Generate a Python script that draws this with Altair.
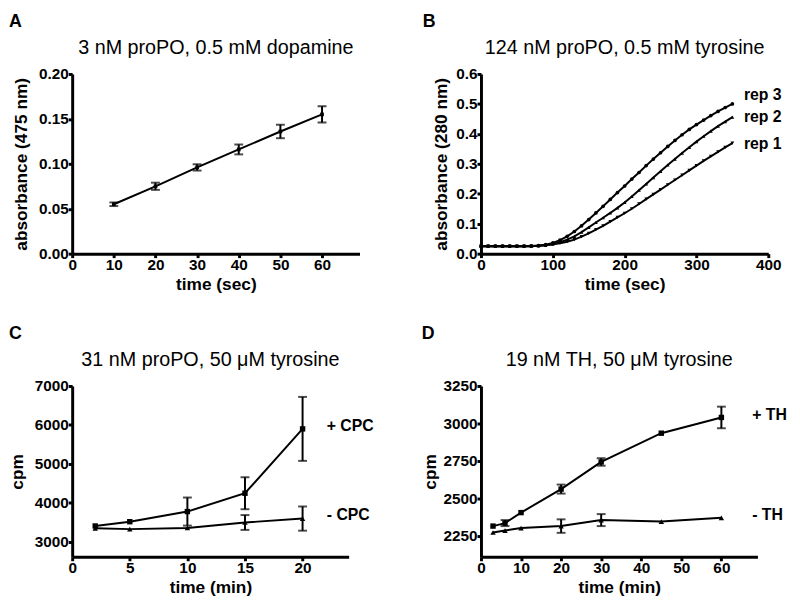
import altair as alt
import pandas as pd

FONT = "Liberation Sans"

# ---------------- Panel A ----------------
a_time = [10, 20, 30, 40, 50, 60]
a_mean = [0.055, 0.075, 0.096, 0.116, 0.136, 0.155]
a_err = [0.002, 0.004, 0.0035, 0.0055, 0.0075, 0.009]

# ---------------- Panel B ----------------
b_time = [0, 10, 20, 30, 40, 50, 60, 70, 80, 90, 100, 110, 120, 130, 140, 150, 160, 170,
          180, 190, 200, 210, 220, 230, 240, 250, 260, 270, 280, 290, 300, 310, 320, 330, 340, 350]
b_rep3 = [0.025, 0.025, 0.025, 0.025, 0.025, 0.025, 0.025, 0.026, 0.027, 0.030, 0.036, 0.045,
          0.058, 0.074, 0.093, 0.114, 0.136, 0.158, 0.181, 0.204, 0.226, 0.249, 0.271, 0.294,
          0.316, 0.337, 0.358, 0.378, 0.397, 0.415, 0.431, 0.446, 0.461, 0.475, 0.488, 0.500]
b_rep2 = [0.025, 0.025, 0.025, 0.025, 0.025, 0.025, 0.025, 0.025, 0.026, 0.028, 0.032, 0.038,
          0.047, 0.058, 0.072, 0.088, 0.104, 0.120, 0.136, 0.153, 0.171, 0.191, 0.212, 0.233,
          0.254, 0.275, 0.296, 0.316, 0.336, 0.355, 0.374, 0.392, 0.409, 0.426, 0.441, 0.456]
b_rep1 = [0.025, 0.025, 0.025, 0.025, 0.025, 0.025, 0.025, 0.025, 0.026, 0.028, 0.031, 0.035,
          0.040, 0.047, 0.057, 0.068, 0.080, 0.093, 0.107, 0.121, 0.135, 0.150, 0.166, 0.182,
          0.198, 0.214, 0.230, 0.246, 0.262, 0.278, 0.294, 0.310, 0.325, 0.340, 0.355, 0.369]
b_labels = ["rep 3", "rep 2", "rep 1"]
b_label_x = [366, 366, 366]
b_label_y = [0.530, 0.457, 0.366]

# ---------------- Panel C ----------------
c_time = [2, 5, 10, 15, 20]
c_plus = [3410, 3520, 3780, 4250, 5900]
c_plus_err = [0, 0, 360, 410, 820]
c_minus = [3350, 3330, 3360, 3500, 3600]
c_minus_err = [0, 0, 0, 190, 310]
c_labels = ["+ CPC", "- CPC"]
c_label_x = [22.1, 22.1]
c_label_y = [5985, 3690]

# ---------------- Panel D ----------------
d_time = [3, 6, 10, 20, 30, 45, 60]
d_plus = [2315, 2335, 2405, 2562, 2743, 2935, 3040]
d_plus_err = [0, 20, 0, 30, 25, 0, 72]
d_minus = [2272, 2285, 2302, 2315, 2355, 2345, 2370]
d_minus_err = [0, 0, 0, 45, 40, 0, 0]
d_labels = ["+ TH", "- TH"]
d_label_x = [67.7, 67.7]
d_label_y = [3054, 2388]


def xq(field, domain, values, title):
    return alt.X(f"{field}:Q", scale=alt.Scale(domain=domain, nice=False, zero=False),
                 axis=alt.Axis(values=values, title=title))


def yq(field, domain, values, title, fmt, tpad):
    return alt.Y(f"{field}:Q", scale=alt.Scale(domain=domain, nice=False, zero=False),
                 axis=alt.Axis(values=values, title=title, format=fmt, titlePadding=tpad))


def series_layers(xs, ys, errs, shape, size, X, Y, cap=9):
    df = pd.DataFrame({"x": xs, "y": ys})
    layers = [
        alt.Chart(df).mark_line(color="black", strokeWidth=2).encode(x=X("x"), y=Y("y")),
        alt.Chart(df).mark_point(filled=True, color="black", shape=shape, size=size, opacity=1)
        .encode(x=X("x"), y=Y("y")),
    ]
    if errs is not None:
        rows = [(x, y - e, y + e) for x, y, e in zip(xs, ys, errs) if e > 0]
        edf = pd.DataFrame(rows, columns=["x", "lo", "hi"])
        layers += [
            alt.Chart(edf).mark_rule(color="black", strokeWidth=2)
            .encode(x=X("x"), y=Y("lo"), y2="hi"),
            alt.Chart(edf).mark_tick(color="black", orient="horizontal", size=cap, thickness=2)
            .encode(x=X("x"), y=Y("lo")),
            alt.Chart(edf).mark_tick(color="black", orient="horizontal", size=cap, thickness=2)
            .encode(x=X("x"), y=Y("hi")),
        ]
    return layers


def letter(ch, dx, dy=-48):
    return alt.Chart(pd.DataFrame({"t": [ch]})).mark_text(
        align="left", baseline="alphabetic", fontSize=18, fontWeight="bold", font=FONT,
        color="black").encode(text="t:N", x=alt.value(dx), y=alt.value(dy))


def ptitle(txt, w, dy=-20):
    return alt.Chart(pd.DataFrame({"t": [txt]})).mark_text(
        align="center", baseline="alphabetic", fontSize=20, fontWeight="normal", font=FONT,
        color="black").encode(text="t:N", x=alt.value(w / 2), y=alt.value(dy))


def labels(names, lx, ly, X, Y):
    df = pd.DataFrame({"t": names, "x": lx, "y": ly})
    return alt.Chart(df).mark_text(align="left", baseline="middle", fontSize=16,
                                   fontWeight="bold", font=FONT, color="black").encode(
        text="t:N", x=X("x"), y=Y("y"))


# Panel A
XA = lambda f: xq(f, [0, 69], [0, 10, 20, 30, 40, 50, 60], "time (sec)")
YA = lambda f: yq(f, [0, 0.2], [0, 0.05, 0.10, 0.15, 0.20], "absorbance (475 nm)", ".2f", 8)
panelA = alt.layer(*series_layers(a_time, a_mean, a_err, "square", 14, XA, YA),
                   letter("A", -64), ptitle("3 nM proPO, 0.5 mM dopamine", 291)).properties(
    width=291, height=182)

# Panel B
XB = lambda f: xq(f, [0, 400], [0, 100, 200, 300, 400], "time (sec)")
YB = lambda f: yq(f, [0, 0.6], [0, 0.1, 0.2, 0.3, 0.4, 0.5, 0.6], "absorbance (280 nm)", ".1f", 5)
panelB = alt.layer(
    *series_layers(b_time, b_rep3, None, "circle", 14, XB, YB),
    *series_layers(b_time, b_rep2, None, "triangle-up", 14, XB, YB),
    *series_layers(b_time, b_rep1, None, "triangle-down", 14, XB, YB),
    labels(b_labels, b_label_x, b_label_y, XB, YB),
    letter("B", -59), ptitle("124 nM proPO, 0.5 mM tyrosine", 291)).properties(
    width=291, height=182)

# Panel C
XC = lambda f: xq(f, [0, 24], [0, 5, 10, 15, 20], "time (min)")
YC = lambda f: yq(f, [2620, 7000], [3000, 4000, 5000, 6000, 7000], "cpm", "d", 8)
panelC = alt.layer(
    *series_layers(c_time, c_plus, c_plus_err, "square", 30, XC, YC),
    *series_layers(c_time, c_minus, c_minus_err, "triangle-up", 30, XC, YC),
    labels(c_labels, c_label_x, c_label_y, XC, YC),
    letter("C", -64), ptitle("31 nM proPO, 50 \u03bcM tyrosine", 280)).properties(
    width=280, height=173)

# Panel D
XD = lambda f: xq(f, [0, 69], [0, 10, 20, 30, 40, 50, 60], "time (min)")
YD = lambda f: yq(f, [2110, 3250], [2250, 2500, 2750, 3000, 3250], "cpm", "d", 4)
panelD = alt.layer(
    *series_layers(d_time, d_plus, d_plus_err, "square", 30, XD, YD),
    *series_layers(d_time, d_minus, d_minus_err, "triangle-up", 30, XD, YD),
    labels(d_labels, d_label_x, d_label_y, XD, YD),
    letter("D", -60), ptitle("19 nM TH, 50 \u03bcM tyrosine", 280)).properties(
    width=280, height=173)

chart = alt.concat(panelA, panelB, panelC, panelD, columns=2,
                   spacing={"row": 32, "column": 47}).properties(
    padding={"left": 0, "top": 1, "right": 5, "bottom": 5}
).configure(font=FONT).configure_view(stroke=None).configure_axis(
    grid=False, domainColor="black", domainWidth=3, tickColor="black", tickWidth=3,
    tickSize=4, labelPadding=0, labelFont=FONT, labelFontSize=15.5, labelFontWeight="bold",
    labelColor="black", titleFont=FONT, titleFontSize=17.5, titleFontWeight="bold",
    titleColor="black", titlePadding=3, labelFlush=False, labelOverlap=False
)

chart.save("out.html", embed_options={"renderer": "svg", "actions": False})
